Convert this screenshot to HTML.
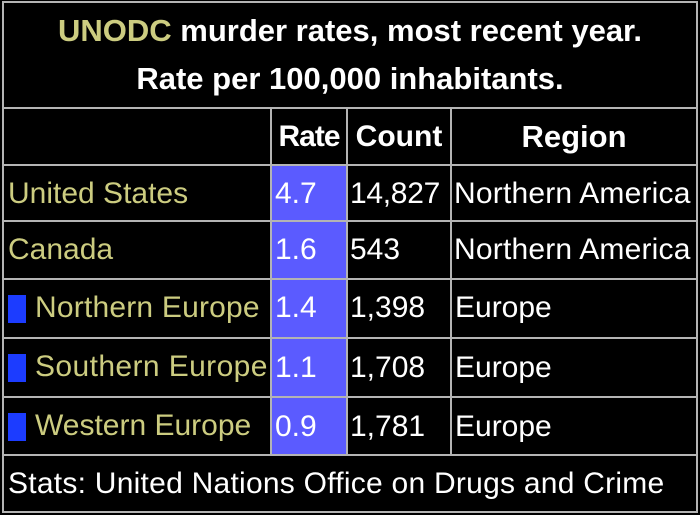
<!DOCTYPE html>
<html><head><meta charset="utf-8"><style>
body{margin:0;width:700px;height:515px;background:#000;position:relative;overflow:hidden;font-family:"Liberation Sans",Arial,sans-serif}
.h{position:absolute;left:2px;width:696px;height:2px;background:#b4b4b4}
.v{position:absolute;width:2px;background:#b4b4b4}
.t{position:absolute;white-space:nowrap;font-size:30px;line-height:34px}
.y{color:#cccc80}.w{color:#fff}.b{font-weight:bold}
.blue{position:absolute;left:272px;width:74px;background:#5b5bff}
.sq{position:absolute;left:8px;width:18px;height:28px;background:#1c3cff}
</style></head><body>
<div class="blue" style="top:166px;height:289px"></div>
<div class="h" style="top:1px"></div>
<div class="h" style="top:107px"></div>
<div class="h" style="top:164px"></div>
<div class="h" style="top:220px"></div>
<div class="h" style="top:278px"></div>
<div class="h" style="top:337px"></div>
<div class="h" style="top:396px"></div>
<div class="h" style="top:454px"></div>
<div class="h" style="top:511px"></div>
<div class="v" style="left:2px;top:1px;height:512px"></div>
<div class="v" style="left:696px;top:1px;height:512px"></div>
<div class="v" style="left:270px;top:107px;height:349px"></div>
<div class="v" style="left:346px;top:107px;height:349px"></div>
<div class="v" style="left:450px;top:107px;height:349px"></div>
<div class="t b" style="left:0;width:700px;text-align:center;top:14px;font-size:31px"><span class="y">UNODC</span> <span class="w">murder rates, most recent year.</span></div>
<div class="t b w" style="left:0;width:700px;text-align:center;top:62px;font-size:31px">Rate per 100,000 inhabitants.</div>
<div class="t b w" style="left:272px;width:74px;text-align:center;top:120px;font-size:30px;letter-spacing:-1px">Rate</div>
<div class="t b w" style="left:348px;width:102px;text-align:center;top:120px;font-size:30px">Count</div>
<div class="t b w" style="left:452px;width:244px;text-align:center;top:120px;font-size:31px">Region</div>

<div class="t y" style="left:8px;top:177px">United States</div>
<div class="t w" style="left:275px;top:177px">4.7</div>
<div class="t w" style="left:350px;top:177px;letter-spacing:-0.3px">14,827</div>
<div class="t w" style="left:454px;top:177px;letter-spacing:0.2px">Northern America</div>

<div class="t y" style="left:8px;top:233px">Canada</div>
<div class="t w" style="left:275px;top:233px">1.6</div>
<div class="t w" style="left:350px;top:233px">543</div>
<div class="t w" style="left:454px;top:233px;letter-spacing:0.2px">Northern America</div>

<div class="sq" style="top:295px"></div>
<div class="t y" style="left:35px;top:291px;letter-spacing:0.2px">Northern Europe</div>
<div class="t w" style="left:275px;top:291px">1.4</div>
<div class="t w" style="left:350px;top:291px">1,398</div>
<div class="t w" style="left:455px;top:291px">Europe</div>

<div class="sq" style="top:354px"></div>
<div class="t y" style="left:35px;top:350px;letter-spacing:0.4px">Southern Europe</div>
<div class="t w" style="left:275px;top:351px">1.1</div>
<div class="t w" style="left:350px;top:351px">1,708</div>
<div class="t w" style="left:455px;top:351px">Europe</div>

<div class="sq" style="top:413px"></div>
<div class="t y" style="left:35px;top:409px">Western Europe</div>
<div class="t w" style="left:275px;top:410px">0.9</div>
<div class="t w" style="left:350px;top:410px">1,781</div>
<div class="t w" style="left:455px;top:410px">Europe</div>

<div class="t w" style="left:8px;top:467px;letter-spacing:0.25px">Stats: United Nations Office on Drugs and Crime</div>
</body></html>
